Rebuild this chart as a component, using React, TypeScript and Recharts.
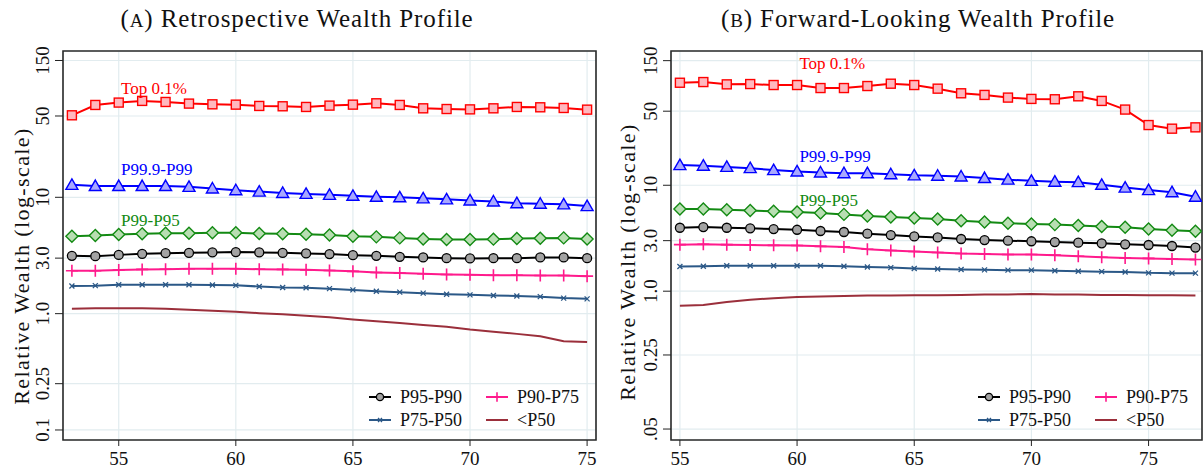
import React from 'react';
import {
  LineChart, Line, XAxis, YAxis, CartesianGrid, ReferenceArea, ReferenceDot,
} from 'recharts';

const FONT = '"Liberation Serif", "Times New Roman", serif';

// (A) retrospective, ages 53-75
const retroAges = [53, 54, 55, 56, 57, 58, 59, 60, 61, 62, 63, 64, 65, 66, 67, 68, 69, 70, 71, 72, 73, 74, 75];
const retroTop = [50.7, 62.2, 65.2, 67.4, 66.0, 63.9, 63.0, 62.6, 61.0, 60.6, 59.8, 61.4, 62.6, 64.3, 62.2, 58.2, 57.4, 57.0, 58.2, 59.8, 59.4, 58.6, 56.7];
const retroP999 = [12.8, 12.5, 12.5, 12.5, 12.5, 12.3, 11.9, 11.5, 11.2, 10.9, 10.7, 10.5, 10.3, 10.1, 10.0, 9.8, 9.6, 9.4, 9.2, 8.9, 8.8, 8.7, 8.4];
const retroP99 = [4.63, 4.69, 4.78, 4.85, 4.91, 4.91, 4.95, 4.95, 4.88, 4.85, 4.81, 4.74, 4.63, 4.57, 4.48, 4.39, 4.34, 4.34, 4.37, 4.42, 4.45, 4.48, 4.39];
const retroP95 = [3.14, 3.12, 3.2, 3.27, 3.31, 3.33, 3.36, 3.38, 3.36, 3.33, 3.29, 3.25, 3.18, 3.14, 3.08, 3.04, 3.0, 2.98, 3.0, 3.0, 3.04, 3.04, 3.0];
const retroP90 = [2.34, 2.34, 2.37, 2.4, 2.41, 2.43, 2.43, 2.43, 2.41, 2.4, 2.38, 2.35, 2.31, 2.26, 2.23, 2.2, 2.17, 2.16, 2.14, 2.14, 2.13, 2.13, 2.1];
const retroP75 = [1.73, 1.74, 1.77, 1.77, 1.77, 1.77, 1.76, 1.75, 1.71, 1.68, 1.67, 1.64, 1.6, 1.56, 1.53, 1.5, 1.47, 1.45, 1.43, 1.42, 1.4, 1.36, 1.34];
const retroP50 = [1.1, 1.11, 1.11, 1.11, 1.1, 1.08, 1.06, 1.04, 1.01, 0.99, 0.96, 0.93, 0.89, 0.86, 0.83, 0.8, 0.77, 0.73, 0.7, 0.67, 0.64, 0.58, 0.57];

// (B) forward-looking, ages 55-77
const fwdAges = [55, 56, 57, 58, 59, 60, 61, 62, 63, 64, 65, 66, 67, 68, 69, 70, 71, 72, 73, 74, 75, 76, 77];
const fwdTop = [92.8, 94.2, 89.6, 90.2, 88.3, 88.3, 82.7, 82.7, 86.4, 90.9, 88.3, 81.6, 73.8, 71.2, 67.2, 65.3, 64.8, 69.1, 62.5, 51.8, 37.0, 34.2, 35.2];
const fwdP999 = [15.5, 15.3, 14.9, 14.5, 13.9, 13.5, 13.2, 13.0, 13.0, 12.7, 12.4, 12.3, 12.1, 11.7, 11.3, 11.0, 10.8, 10.7, 10.1, 9.5, 9.0, 8.6, 7.8];
const fwdP99 = [5.96, 5.96, 5.87, 5.79, 5.67, 5.58, 5.46, 5.31, 5.12, 5.01, 4.9, 4.8, 4.63, 4.5, 4.37, 4.31, 4.25, 4.16, 4.07, 4.01, 3.87, 3.76, 3.68];
const fwdP95 = [3.97, 4.03, 3.97, 3.92, 3.86, 3.8, 3.7, 3.62, 3.49, 3.39, 3.29, 3.22, 3.11, 3.04, 3.0, 2.96, 2.91, 2.87, 2.83, 2.77, 2.73, 2.67, 2.58];
const fwdP90 = [2.75, 2.77, 2.75, 2.73, 2.71, 2.7, 2.65, 2.62, 2.49, 2.42, 2.37, 2.32, 2.27, 2.25, 2.22, 2.22, 2.19, 2.14, 2.09, 2.06, 2.04, 2.01, 1.99];
const fwdP75 = [1.71, 1.72, 1.74, 1.74, 1.74, 1.74, 1.74, 1.72, 1.69, 1.67, 1.64, 1.62, 1.6, 1.59, 1.58, 1.58, 1.56, 1.54, 1.53, 1.52, 1.49, 1.48, 1.48];
const fwdP50 = [0.73, 0.74, 0.79, 0.83, 0.86, 0.88, 0.89, 0.9, 0.91, 0.91, 0.915, 0.915, 0.92, 0.93, 0.93, 0.94, 0.93, 0.93, 0.92, 0.92, 0.915, 0.915, 0.91];

const xTicks = [55, 60, 65, 70, 75];
const retroYTicks = [0.1, 0.25, 1, 3, 10, 50, 150];
const retroYLabels = ['0.1', '0.25', '1.0', '3.0', '10', '50', '150'];
const fwdYTicks = [0.05, 0.25, 1, 3, 10, 50, 150];
const fwdYLabels = ['.05', '0.25', '1.0', '3.0', '10', '50', '150'];

type Marker = 'none' | 'x' | 'plus' | 'circle' | 'diamond' | 'triangle' | 'square';
interface SeriesDef { key: string; name: string; color: string; fill?: string; marker: Marker }

const SERIES: SeriesDef[] = [
  { key: 'p50', name: '<P50', color: '#9b2f3b', marker: 'none' },
  { key: 'p75', name: 'P75-P50', color: '#2b5887', marker: 'x' },
  { key: 'p90', name: 'P90-P75', color: '#ff1a8c', marker: 'plus' },
  { key: 'p95', name: 'P95-P90', color: '#000000', fill: '#a3a3a3', marker: 'circle' },
  { key: 'p99', name: 'P99-P95', color: '#138a13', fill: '#b8deb2', marker: 'diamond' },
  { key: 'p999', name: 'P99.9-P99', color: '#0000ff', fill: '#a8a8ff', marker: 'triangle' },
  { key: 'top', name: 'Top 0.1%', color: '#ff0000', fill: '#ffb8bf', marker: 'square' },
];

const build = (ages: number[], cols: Record<string, number[]>) =>
  ages.map((age, i) => {
    const row: Record<string, number> = { age };
    Object.keys(cols).forEach(k => { row[k] = cols[k][i]; });
    return row;
  });

const retroData = build(retroAges, {
  top: retroTop, p999: retroP999, p99: retroP99, p95: retroP95, p90: retroP90, p75: retroP75, p50: retroP50,
});
const fwdData = build(fwdAges, {
  top: fwdTop, p999: fwdP999, p99: fwdP99, p95: fwdP95, p90: fwdP90, p75: fwdP75, p50: fwdP50,
});

function drawMarker(s: SeriesDef, cx: number, cy: number, key: any, scale = 1) {
  const k = scale;
  switch (s.marker) {
    case 'square':
      return <rect key={key} x={cx - 4.5 * k} y={cy - 4.5 * k} width={9 * k} height={9 * k} fill={s.fill} stroke={s.color} strokeWidth={1.4} />;
    case 'triangle':
      return <polygon key={key} points={`${cx},${cy - 6 * k} ${cx + 6 * k},${cy + 4.5 * k} ${cx - 6 * k},${cy + 4.5 * k}`} fill={s.fill} stroke={s.color} strokeWidth={1.4} />;
    case 'diamond':
      return <polygon key={key} points={`${cx},${cy - 6 * k} ${cx + 6 * k},${cy} ${cx},${cy + 6 * k} ${cx - 6 * k},${cy}`} fill={s.fill} stroke={s.color} strokeWidth={1.4} />;
    case 'circle':
      return <circle key={key} cx={cx} cy={cy} r={4.5 * k} fill={s.fill} stroke={s.color} strokeWidth={1.3} />;
    case 'plus':
      return <path key={key} d={`M${cx - 6 * k},${cy}H${cx + 6 * k}M${cx},${cy - 6 * k}V${cy + 6 * k}`} stroke={s.color} strokeWidth={1.6} fill="none" />;
    case 'x':
      return <path key={key} d={`M${cx - 2.5 * k},${cy - 2.5 * k}L${cx + 2.5 * k},${cy + 2.5 * k}M${cx - 2.5 * k},${cy + 2.5 * k}L${cx + 2.5 * k},${cy - 2.5 * k}`} stroke={s.color} strokeWidth={1.3} fill="none" />;
    default:
      return <g key={key} />;
  }
}

const makeDot = (s: SeriesDef) => (props: any) => {
  const { cx, cy, index } = props;
  if (cx == null || cy == null) return <g key={`d-${s.key}-${index}`} />;
  return drawMarker(s, cx, cy, `d-${s.key}-${index}`);
};

const makeYTick = (labels: string[]) => (props: any) => {
  const { x, y, index } = props;
  const cx = x - 10;
  return (
    <text x={cx} y={y} transform={`rotate(-90 ${cx} ${y})`} textAnchor="middle"
      dominantBaseline="central" fontSize={19} fontFamily={FONT} fill="#111">
      {labels[index]}
    </text>
  );
};

interface TagDef { x: number; y: number; text: string; color: string }

interface PanelProps {
  data: Record<string, number>[];
  xDomain: [number, number];
  yDomain: [number, number];
  yTicks: number[];
  yLabels: string[];
  axisWidth: number;
  rightMargin: number;
  tags: TagDef[];
}

const Panel: React.FC<PanelProps> = ({ data, xDomain, yDomain, yTicks, yLabels, axisWidth, rightMargin, tags }) => (
  <LineChart width={602} height={476} data={data} margin={{ top: 51, right: rightMargin, bottom: 0, left: 0 }}>
    <CartesianGrid stroke="#e2ecef" strokeWidth={1.2} />
    <XAxis
      dataKey="age" type="number" domain={xDomain} allowDataOverflow ticks={xTicks}
      height={36} tickSize={6} tickMargin={6} axisLine={false}
      tickLine={{ stroke: '#222' }}
      tick={{ fontSize: 19, fontFamily: FONT, fill: '#111' }}
    />
    <YAxis
      scale="log" domain={yDomain} allowDataOverflow ticks={yTicks}
      width={axisWidth} tickSize={8} tickMargin={2} axisLine={false}
      tickLine={{ stroke: '#222' }}
      tick={makeYTick(yLabels)}
    />
    {SERIES.map(s => (
      <Line
        key={s.key} dataKey={s.key} type="linear" stroke={s.color} strokeWidth={2}
        dot={s.marker === 'none' ? false : makeDot(s)} activeDot={false}
        isAnimationActive={false}
      />
    ))}
    {tags.map(t => (
      <ReferenceDot
        key={t.text} x={t.x} y={t.y} r={0} fill="none" stroke="none"
        label={{ value: t.text, position: 'right', offset: 0, fill: t.color, fontSize: 17, fontFamily: FONT }}
      />
    ))}
    <ReferenceArea
      x1={xDomain[0]} x2={xDomain[1]} y1={yDomain[0]} y2={yDomain[1]}
      fill="none" fillOpacity={0} stroke="#2a2a2a" strokeWidth={1.6} ifOverflow="visible"
    />
  </LineChart>
);

// legend, titles and axis titles drawn as svg text on top of the two charts
const LegendBox: React.FC<{ left: number }> = ({ left }) => {
  const order = ['p95', 'p90', 'p75', 'p50'];
  return (
    <g>
      {order.map((k, i) => {
        const s = SERIES.find(d => d.key === k)!;
        const x = left + (i % 2) * 117;
        const y = 397 + Math.floor(i / 2) * 23;
        return (
          <g key={k}>
            <line x1={x + 1} y1={y} x2={x + 23} y2={y} stroke={s.color} strokeWidth={2} />
            {drawMarker(s, x + 12, y, 'm', 0.8)}
            <text x={x + 32} y={y} dominantBaseline="central" fontSize={18} fontFamily={FONT} fill="#111">{s.name}</text>
          </g>
        );
      })}
    </g>
  );
};

const YTitle: React.FC<{ cx: number; cy: number }> = ({ cx, cy }) => (
  <text x={cx} y={cy} transform={`rotate(-90 ${cx} ${cy})`} textAnchor="middle" dominantBaseline="central"
    fontSize={22} letterSpacing={1.4} fontFamily={FONT} fill="#111">
    Relative Wealth (log-scale)
  </text>
);

const Title: React.FC<{ cx: number; letter: string; text: string }> = ({ cx, letter, text }) => (
  <text x={cx} y={27} textAnchor="middle" fontSize={25} letterSpacing={0.9} fontFamily={FONT} fill="#111">
    (<tspan fontSize={19}>{letter}</tspan>) {text}
  </text>
);

export default function App() {
  return (
    <div style={{ position: 'absolute', left: 0, top: 0, width: 1204, height: 476, background: '#fff', overflow: 'hidden' }}>
      <style>{'body{margin:0}'}</style>
      <div style={{ position: 'absolute', left: 0, top: 0 }}>
        <Panel
          data={retroData} xDomain={[52.62, 75.38]} yDomain={[0.082, 181]}
          yTicks={retroYTicks} yLabels={retroYLabels} axisWidth={63} rightMargin={6}
          tags={[
            { x: 55.1, y: 86.6, text: 'Top 0.1%', color: '#ff0000' },
            { x: 55.1, y: 17.5, text: 'P99.9-P99', color: '#0000ff' },
            { x: 55.1, y: 6.4, text: 'P99-P95', color: '#138a13' },
          ]}
        />
      </div>
      <div style={{ position: 'absolute', left: 602, top: 0 }}>
        <Panel
          data={fwdData} xDomain={[54.62, 77.28]} yDomain={[0.0394, 185]}
          yTicks={fwdYTicks} yLabels={fwdYLabels} axisWidth={69} rightMargin={2}
          tags={[
            { x: 60.1, y: 142, text: 'Top 0.1%', color: '#ff0000' },
            { x: 60.1, y: 19.1, text: 'P99.9-P99', color: '#0000ff' },
            { x: 60.1, y: 7.2, text: 'P99-P95', color: '#138a13' },
          ]}
        />
      </div>
      <svg width={1204} height={476} style={{ position: 'absolute', left: 0, top: 0, pointerEvents: 'none' }}>
        <Title cx={297} letter="A" text="Retrospective Wealth Profile" />
        <Title cx={918} letter="B" text="Forward-Looking Wealth Profile" />
        <YTitle cx={21} cy={266} />
        <YTitle cx={627} cy={262} />
        <LegendBox left={368} />
        <LegendBox left={977} />
      </svg>
    </div>
  );
}
